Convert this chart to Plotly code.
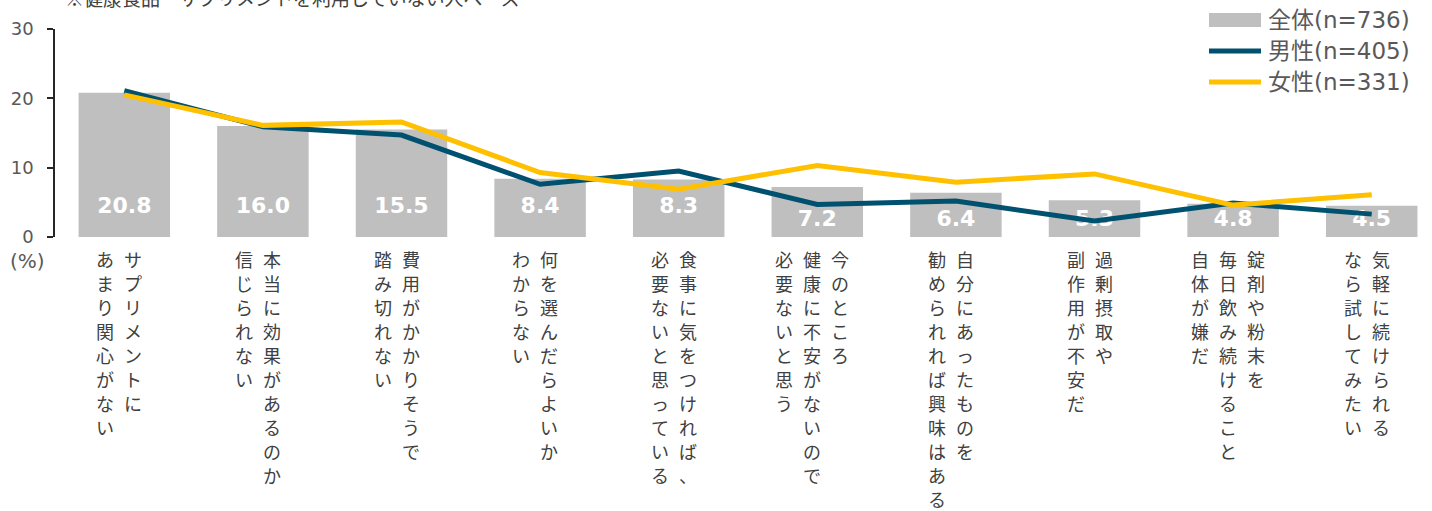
import plotly.graph_objects as go

# ---------------- data ----------------
categories = [
    "サプリメントに\nあまり関心がない",
    "本当に効果があるのか\n信じられない",
    "費用がかかりそうで\n踏み切れない",
    "何を選んだらよいか\nわからない",
    "食事に気をつければ、\n必要ないと思っている",
    "今のところ\n健康に不安がないので\n必要ないと思う",
    "自分にあったものを\n勧められれば興味はある",
    "過剰摂取や\n副作用が不安だ",
    "錠剤や粉末を\n毎日飲み続けること\n自体が嫌だ",
    "気軽に続けられる\nなら試してみたい",
]
overall = [20.8, 16.0, 15.5, 8.4, 8.3, 7.2, 6.4, 5.3, 4.8, 4.5]
male = [21.1, 15.9, 14.7, 7.6, 9.5, 4.7, 5.2, 2.3, 4.9, 3.3]
female = [20.5, 16.1, 16.6, 9.3, 6.9, 10.3, 7.9, 9.1, 4.6, 6.1]
series_names = ["全体(n=736)", "男性(n=405)", "女性(n=331)"]
y_ticks = [0, 10, 20, 30]
title_text = "※健康食品・サプリメントを利用していない人ベース"
unit_label = "(%)"

# ---------------- layout constants ----------------
W, H = 1432, 511
ML, MR, MT, MB = 55, 0, 29, 274
PW, PH = W - ML - MR, H - MT - MB

C_BAR = "#BFBFBF"
C_MALE = "#00516F"
C_FEMALE = "#FFC000"
C_TEXT = "#404040"
C_TICK = "#595959"
JP = "Noto Sans CJK JP"
LAT = "DejaVu Sans, Noto Sans CJK JP"


def px_x(p):
    return (p - ML) / PW


def px_y(p):
    return (H - MB - p) / PH


idx = list(range(len(categories)))

fig = go.Figure()
fig.add_trace(go.Bar(x=idx, y=overall, name=series_names[0], marker=dict(color=C_BAR, line=dict(width=0)),
                     width=0.66, showlegend=False, hoverinfo="y"))
label_y = [4.2 if v >= 8 else 2.4 for v in overall]
fig.add_trace(go.Scatter(x=idx, y=label_y, mode="text", text=[f"<b>{v:.1f}</b>" for v in overall],
                         textfont=dict(color="white", size=22, family="DejaVu Sans"),
                         showlegend=False, hoverinfo="skip", cliponaxis=False))
fig.add_trace(go.Scatter(x=idx, y=male, name=series_names[1], mode="lines",
                         line=dict(color=C_MALE, width=5), showlegend=False))
fig.add_trace(go.Scatter(x=idx, y=female, name=series_names[2], mode="lines",
                         line=dict(color=C_FEMALE, width=5), showlegend=False))

annotations = []
# vertical category labels: one text block per column, columns read right-to-left.
# Line pitch is set by the block font size (1.3 x size), glyphs drawn via span.
COL_PITCH, CHAR_PITCH, GLYPH = 28, 24, 18
for k, lab in enumerate(categories):
    cols = lab.split("\n")
    n = len(cols)
    for j, col in enumerate(cols):
        xs = -5 + ((n - 1) / 2 - j) * COL_PITCH
        txt = "<br>".join(f"<span style='font-size:{GLYPH}px'>{ch}</span>" for ch in col)
        annotations.append(dict(x=k, xref="x", y=0, yref="paper", yanchor="top", xanchor="center",
                                xshift=xs, yshift=-7, text=txt, showarrow=False, align="center",
                                font=dict(family=JP, size=CHAR_PITCH / 1.3, color=C_TEXT)))

# unit label
annotations.append(dict(x=px_x(27), xref="paper", y=0, yref="paper", yshift=-24, xanchor="center",
                        yanchor="middle", text=unit_label, showarrow=False,
                        font=dict(family=LAT, size=20, color=C_TICK)))
# cut-off title
annotations.append(dict(x=px_x(63), xref="paper", y=1, yref="paper", yshift=32, xanchor="left",
                        yanchor="middle", text=title_text, showarrow=False,
                        font=dict(family=JP, size=19, color=C_TEXT)))

# custom legend
shapes = [
    dict(type="rect", xref="paper", yref="paper", x0=px_x(1209), x1=px_x(1261), y0=px_y(27), y1=px_y(13),
         fillcolor=C_BAR, line=dict(width=0), layer="above"),
    dict(type="line", xref="paper", yref="paper", x0=px_x(1209), x1=px_x(1261), y0=px_y(51), y1=px_y(51),
         line=dict(color=C_MALE, width=5), layer="above"),
    dict(type="line", xref="paper", yref="paper", x0=px_x(1209), x1=px_x(1261), y0=px_y(82), y1=px_y(82),
         line=dict(color=C_FEMALE, width=5), layer="above"),
]
for name, py in zip(series_names, [20, 51, 82]):
    annotations.append(dict(x=px_x(1266), xref="paper", y=px_y(py), yref="paper", xanchor="left",
                            yanchor="middle", text=name, showarrow=False,
                            font=dict(family=LAT, size=23, color=C_TICK)))

fig.update_layout(
    width=W, height=H,
    margin=dict(l=ML, r=MR, t=MT, b=MB, pad=0),
    paper_bgcolor="white", plot_bgcolor="white",
    font=dict(family=LAT, color=C_TICK),
    showlegend=False,
    annotations=annotations,
    shapes=shapes,
    xaxis=dict(range=[-0.5, 9.435], showticklabels=False, ticks="", showline=False, showgrid=False,
               zeroline=False, fixedrange=True),
    yaxis=dict(range=[0, 30], tickvals=y_ticks, ticks="outside", ticklen=6, tickwidth=1.5,
               tickcolor="#262626", showline=True, linecolor="#262626", linewidth=1.5,
               showgrid=False, zeroline=False, tickfont=dict(size=18, color=C_TICK, family=LAT),
               ticklabelstandoff=10),
)

fig.write_html("out.html")
